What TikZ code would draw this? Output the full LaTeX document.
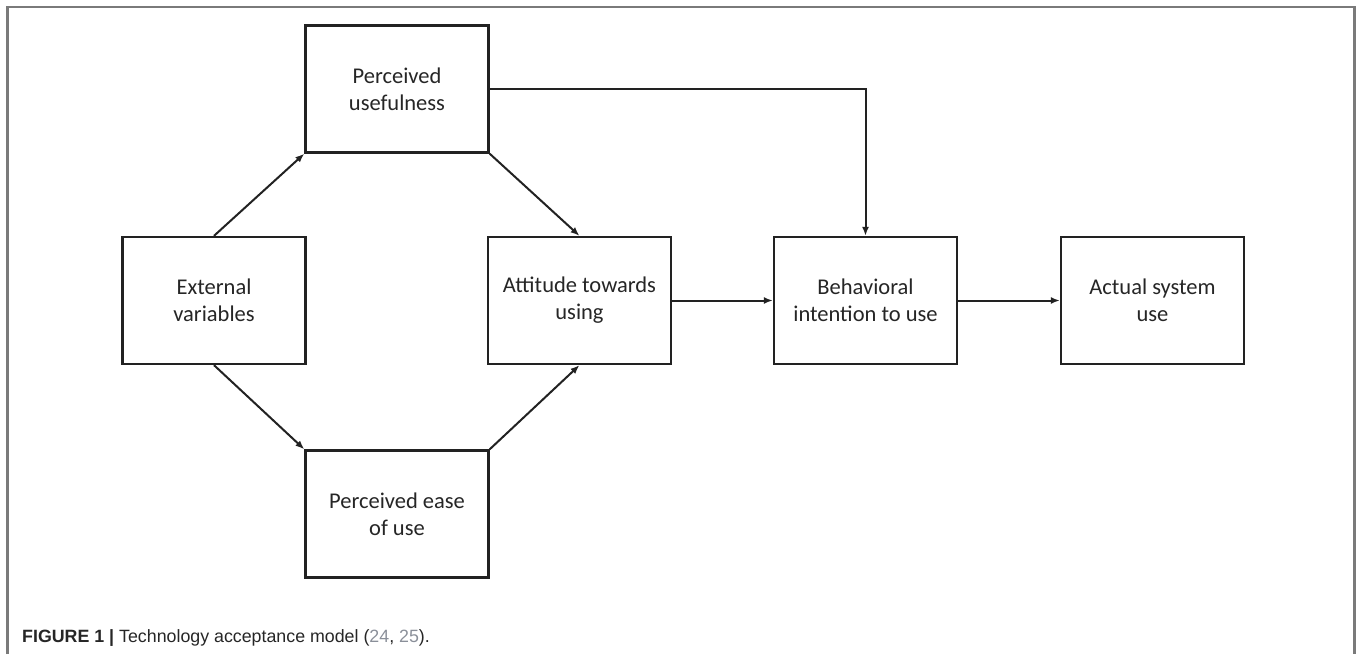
\documentclass[tikz,border=0pt]{standalone}
\usepackage{fontspec}
\setmainfont{Carlito}
\newfontfamily\capfont{Liberation Sans}
\usetikzlibrary{arrows.meta}
\definecolor{boxline}{HTML}{222222}
\definecolor{framegray}{HTML}{7A7A7A}
\definecolor{refgray}{HTML}{8A8F99}
\begin{document}
\begin{tikzpicture}[x=1pt,y=-1pt,
  box/.style={draw=boxline,line width=2.3pt,fill=white,minimum width=183pt,minimum height=127pt,
    align=center,inner sep=0pt,font=\fontsize{22.5}{27}\selectfont,text=black!85},
  arr/.style={draw=boxline,line width=2pt,-{Latex[length=9pt,width=7pt]}}]
\useasboundingbox (0,0) rectangle (1358,654);
\draw[framegray,line width=2.4pt] (7.5,654) -- (7.5,7) -- (1354.5,7) -- (1354.5,654);
\node[box] (pu) at (397,89) {Perceived\\usefulness};
\node[box] (ev) at (214,300.5) {External\\variables};
\node[box] (at) at (579.5,300.5) {Attitude towards\\using};
\node[box] (bi) at (865.5,300.5) {Behavioral\\intention to use};
\node[box] (as) at (1152.5,300.5) {Actual system\\use};
\node[box] (pe) at (397,514) {Perceived ease\\of use};
\draw[arr] (ev.north) -- (pu.south west);
\draw[arr] (pu.south east) -- (at.north);
\draw[arr] (ev.south) -- (pe.north west);
\draw[arr] (pe.north east) -- (at.south);
\draw[arr] (at.east) -- (bi.west);
\draw[arr] (bi.east) -- (as.west);
\draw[arr] (pu.east) -| (bi.north);
\node[anchor=base west,inner sep=0pt,font=\capfont\fontsize{17.8}{22}\selectfont,text=black!85] (cap) at (22,642)
  {\textbf{FIGURE 1 |} Technology acceptance model ({\color{refgray}24}, {\color{refgray}25}).};
\end{tikzpicture}
\end{document}
